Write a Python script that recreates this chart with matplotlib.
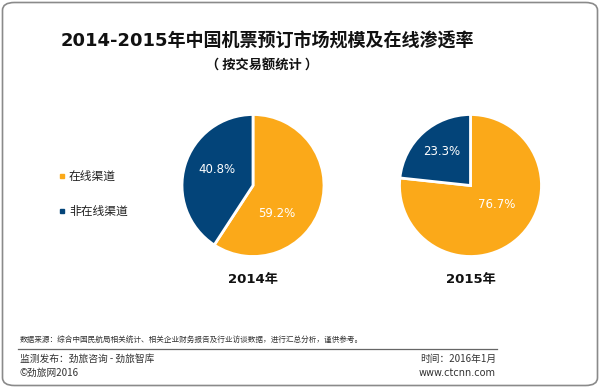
import matplotlib
matplotlib.use("Agg")
import matplotlib.pyplot as plt
from matplotlib.patches import FancyBboxPatch
from matplotlib.lines import Line2D

plt.rcParams['font.family'] = ['Noto Sans CJK SC', 'DejaVu Sans']

years = ['2014年', '2015年']
categories = ['在线渠道', '非在线渠道']
online = [59.2, 76.7]
offline = [40.8, 23.3]
colors = ['#FBA919', '#034479']

title = '2014-2015年中国机票预订市场规模及在线渗透率'
subtitle = '（ 按交易额统计 ）'
source = '数据来源：综合中国民航局相关统计、相关企业财务报告及行业访谈数据，进行汇总分析，谨供参考。'
footer_left = ['监测发布：劲旅咨询 - 劲旅智库', '©劲旅网2016']
footer_right = ['时间：2016年1月', 'www.ctcnn.com']

W, H = 600, 388
fig = plt.figure(figsize=(W / 100, H / 100), dpi=100)
fig.patch.set_facecolor('white')

def fx(px):
    return px / W

def fy(py):
    return 1 - py / H

# border
border = FancyBboxPatch((fx(2.5), fy(385.5)), fx(595), (383 / H),
                        boxstyle='round,pad=0,rounding_size=0.02',
                        transform=fig.transFigure, facecolor='none',
                        edgecolor='#8a8a8a', linewidth=1.2)
fig.patches.append(border)

fig.text(fx(267), fy(42), title, ha='center', va='center', fontsize=13,
         fontweight='bold', color='#111111',
         family=['DejaVu Sans', 'Noto Sans CJK SC'])
fig.text(fx(262), fy(66), subtitle, ha='center', va='center', fontsize=9.5,
         fontweight='bold', color='#111111')

centers = [(253, 185.5), (470.5, 185.5)]
R = 71
half = 75
# label offsets (in units of the half-size of the pie box): online, offline
label_offsets = [[(0.32, -0.367), (-0.48, 0.207)],
                 [(0.353, -0.26), (-0.38, 0.447)]]
for i, (cx, cy) in enumerate(centers):
    ax = fig.add_axes([fx(cx - half), fy(cy + half), 2 * half / W, 2 * half / H])
    vals = [online[i], offline[i]]
    wedges, texts, autotexts = ax.pie(
        vals, colors=colors, startangle=90, counterclock=False,
        radius=R / half, autopct='%1.1f%%', pctdistance=0.55,
        wedgeprops=dict(edgecolor='white', linewidth=2),
        textprops=dict(color='white', fontsize=8.5, family='DejaVu Sans'))
    for t, pos in zip(autotexts, label_offsets[i]):
        t.set_position(pos)
    ax.set_xlim(-1, 1)
    ax.set_ylim(-1, 1)
    ax.set_aspect('equal')
    ax.axis('off')
    fig.text(fx(cx), fy(280), years[i], ha='center', va='center',
             fontsize=9.5, fontweight='bold', color='#111111',
             family=['DejaVu Sans', 'Noto Sans CJK SC'])

# legend
for j, (cat, col) in enumerate(zip(categories, colors)):
    y = [176, 211][j]
    fig.add_artist(Line2D([fx(62)], [fy(y)], marker='s', markersize=3.5,
                          color=col, linestyle='none', transform=fig.transFigure))
    fig.text(fx(69), fy(y), cat, ha='left', va='center', fontsize=8.5,
             color='#222222')

# footer
fig.text(fx(20), fy(341), source, ha='left', va='center', fontsize=5.5,
         color='#333333')
fig.add_artist(Line2D([fx(18), fx(497)], [fy(348.5), fy(348.5)],
                      color='#666666', linewidth=0.9, transform=fig.transFigure))
fig.text(fx(20), fy(359), footer_left[0], ha='left', va='center', fontsize=7,
         color='#333333')
fig.text(fx(20), fy(373), footer_left[1], ha='left', va='center', fontsize=7,
         color='#333333')
fig.text(fx(496), fy(359), footer_right[0], ha='right', va='center', fontsize=7,
         color='#333333')
fig.text(fx(496), fy(373), footer_right[1], ha='right', va='center', fontsize=7,
         color='#333333', family=['DejaVu Sans', 'Noto Sans CJK SC'])

fig.savefig('out.png', dpi=100, facecolor='white')
